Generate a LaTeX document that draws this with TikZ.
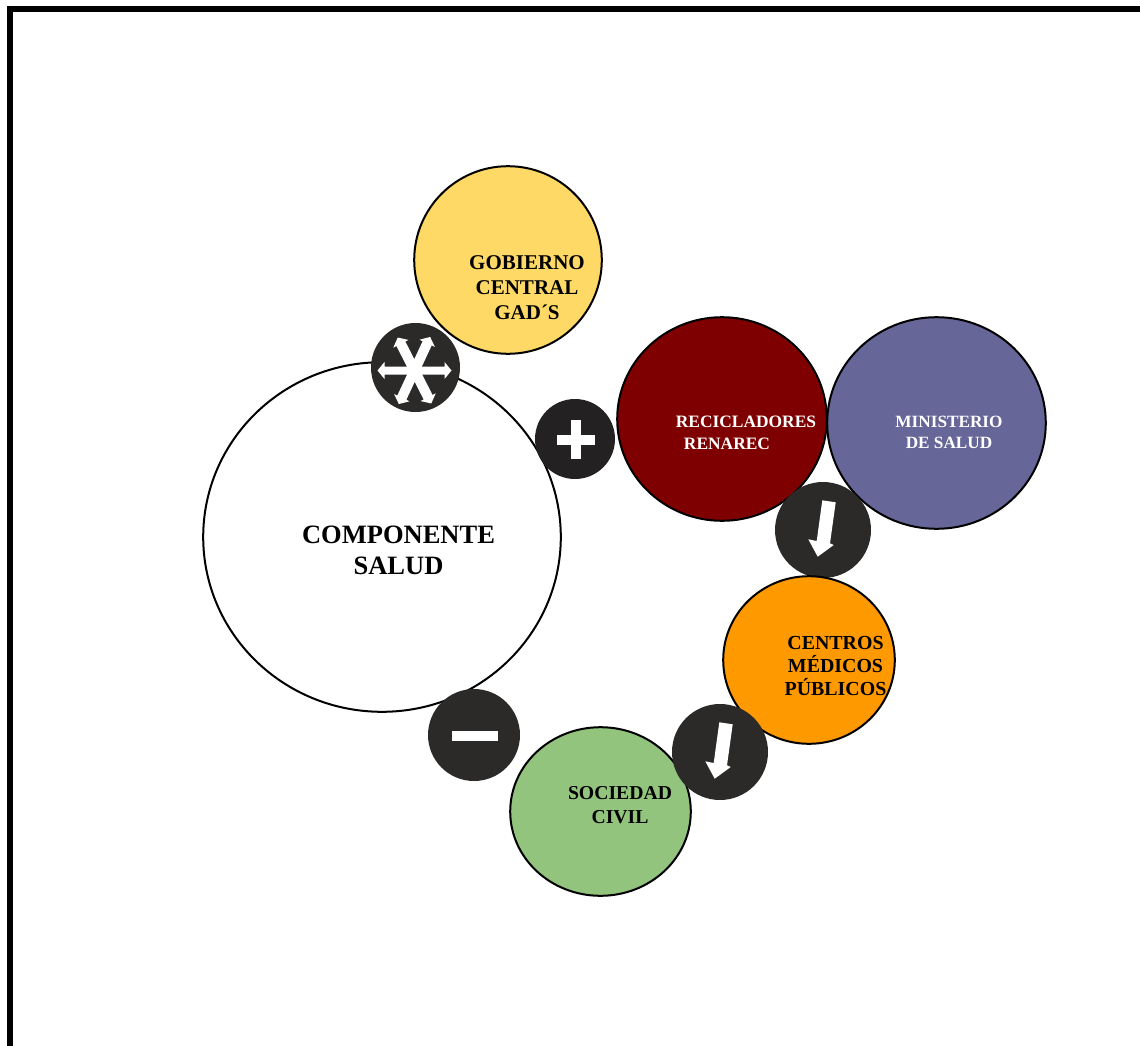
\documentclass[tikz,border=0pt]{standalone}
\usepackage{fontspec}
\setmainfont{Liberation Serif}
\usetikzlibrary{shapes.geometric}
\definecolor{gobc}{HTML}{FFD966}
\definecolor{recc}{HTML}{7F0000}
\definecolor{minc}{HTML}{666699}
\definecolor{cenc}{HTML}{FF9900}
\definecolor{socc}{HTML}{93C47D}
\definecolor{darkc}{HTML}{2B2A29}
\definecolor{plusc}{HTML}{232122}
\tikzset{
  blob/.style={ellipse,draw=black,line width=2pt,inner sep=0pt,outer sep=0pt},
  badge/.style={circle,inner sep=0pt,outer sep=0pt,fill=darkc},
  lab/.style={inner sep=0pt,outer sep=0pt,align=center,font=\bfseries},
}
% rotation, half shaft width
\newcommand{\dblarrow}[2]{%
  \fill[white,shift={(414.5,370.5)},rotate=#1]
    (-37,0) -- (-30,-8.5) -- (-30,-#2) -- (30,-#2) -- (30,-8.5) -- (37,0) -- (30,8.5) -- (30,#2) -- (-30,#2) -- (-30,8.5) -- cycle;}
\newcommand{\downarrowmark}[2]{%
  \fill[white,shift={(#1,#2)}]
    (-0.7,-29.7) -- (12.7,-27.7) -- (7,13.3) -- (10.7,15) -- (-5.3,26.7) -- (-14.7,9.3) -- (-6.3,11) -- cycle;}
\begin{document}
\begin{tikzpicture}[x=1pt,y=-1pt]
\useasboundingbox (0,0) rectangle (1140,1046);
\fill[black] (7,6) rectangle (1140,12);
\fill[black] (7,6) rectangle (13,1046);
% large circles
\node[blob,fill=white,minimum width=357.6pt,minimum height=349.6pt] (comp) at (382,537) {};
\node[blob,fill=gobc,minimum width=187.6pt,minimum height=187.6pt] (gob) at (508,260) {};
\node[blob,fill=recc,minimum width=209.6pt,minimum height=203.6pt] (rec) at (722,419) {};
\node[blob,fill=minc,minimum width=218.6pt,minimum height=211.6pt] (min) at (936.5,423) {};
\node[badge,minimum size=96pt] (b1) at (823,530) {};
\node[blob,fill=cenc,minimum width=171.6pt,minimum height=167.6pt] (cen) at (809,660) {};
\node[blob,fill=socc,minimum width=180.6pt,minimum height=168.6pt] (soc) at (600.5,811.5) {};
% badges
\node[badge,minimum size=89pt] (star) at (415.5,367.5) {};
\node[badge,fill=plusc,minimum size=80pt] (plus) at (575,439) {};
\node[badge,minimum size=92pt] (minus) at (474,735) {};
\node[badge,minimum size=96pt] (b2) at (720,752) {};
% marks
\dblarrow{0}{4}\dblarrow{65}{5}\dblarrow{-63}{5}
\fill[white] (557.3,435.3) rectangle (595.3,444.7);
\fill[white] (571.3,420) rectangle (581.3,459.3);
\fill[white] (451.5,731) rectangle (498,741);
\downarrowmark{823}{530}
\downarrowmark{720}{752}
% labels
\node[lab,font=\bfseries\fontsize{26.5}{31}\selectfont] (tcomp) at (398.5,550) {COMPONENTE\\SALUD};
\node[lab,font=\bfseries\fontsize{21}{25}\selectfont] (tgob) at (527,288) {GOBIERNO\\CENTRAL\\GAD´S};
\node[lab,text=white,font=\bfseries\fontsize{17.4}{22}\selectfont] (trec) at (746,433) {RECICLADORES\\RENAREC\hspace*{38pt}};
\node[lab,text=white,font=\bfseries\fontsize{17.2}{21}\selectfont] (tmin) at (949,432) {MINISTERIO\\DE SALUD};
\node[lab,font=\bfseries\fontsize{19.9}{23}\selectfont] (tcen) at (835.5,666) {CENTROS\\MÉDICOS\\PÚBLICOS};
\node[lab,font=\bfseries\fontsize{19.7}{24}\selectfont] (tsoc) at (620,805) {SOCIEDAD\\CIVIL};
\end{tikzpicture}
\end{document}
